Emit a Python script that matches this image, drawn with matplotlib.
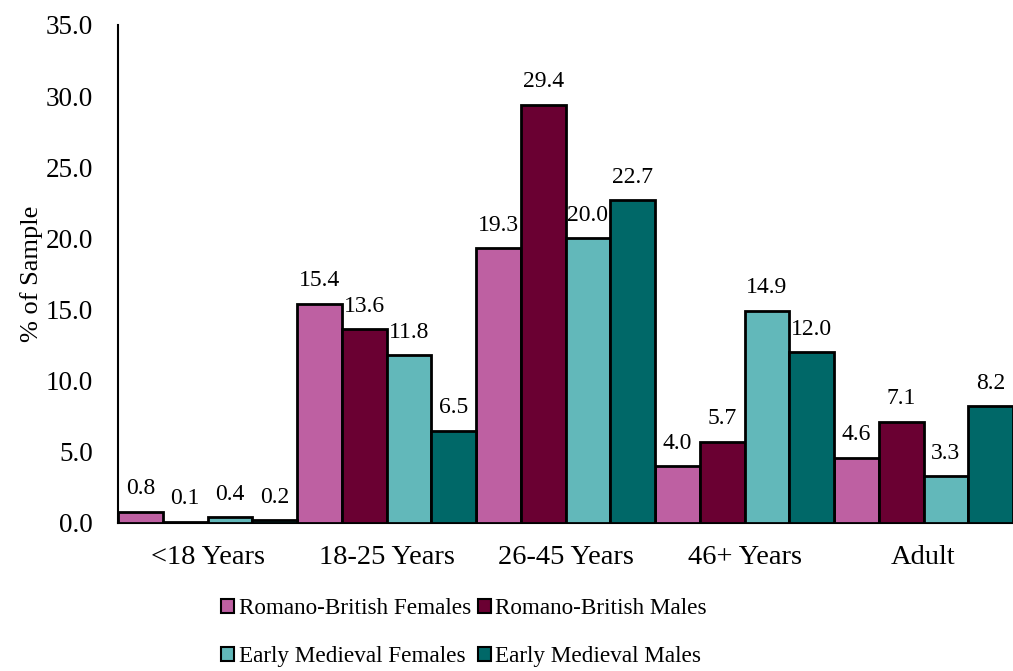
import matplotlib
matplotlib.use("Agg")
import matplotlib.pyplot as plt
from matplotlib.patches import Patch
import numpy as np

categories = ["<18 Years", "18-25 Years", "26-45 Years", "46+ Years", "Adult"]
series_names = ["Romano-British Females", "Romano-British Males",
                "Early Medieval Females", "Early Medieval Males"]
rb_females = [0.8, 15.4, 19.3, 4.0, 4.6]
rb_males = [0.1, 13.6, 29.4, 5.7, 7.1]
em_females = [0.4, 11.8, 20.0, 14.9, 3.3]
em_males = [0.2, 6.5, 22.7, 12.0, 8.2]
yticks = [0, 5, 10, 15, 20, 25, 30, 35]

colors = ["#BE60A2", "#6A0032", "#62B8BA", "#006868"]
series = [rb_females, rb_males, em_females, em_males]

plt.rcParams['font.family'] = ['Liberation Serif', 'DejaVu Serif']

fig = plt.figure(figsize=(10.13, 6.71), dpi=100)
ax = fig.add_axes([118/1013, 1-523/671, 1-118/1013, (523-25)/671])

x = np.arange(len(categories))
w = 0.25
for i, (vals, c) in enumerate(zip(series, colors)):
    pos = x - 0.375 + i * w
    ax.bar(pos, vals, width=w, color=c, edgecolor="black", linewidth=2,
           label=series_names[i], zorder=3)
    for p, v in zip(pos, vals):
        ax.annotate(f"{v:.1f}", (p, v), xytext=(0, 9), textcoords="offset points",
                    ha="center", va="bottom", fontsize=17)

ax.set_xlim(-0.5, len(categories) - 0.5)
ax.set_ylim(0, 35)
ax.set_yticks(yticks)
ax.set_yticklabels([f"{t:.1f}" for t in yticks], fontsize=19.5)
ax.set_xticks(x)
ax.set_xticklabels(categories, fontsize=20.5)
ax.tick_params(axis="x", length=0, pad=16)
ax.tick_params(axis="y", length=0, pad=18)
for s in ["top", "right"]:
    ax.spines[s].set_visible(False)
ax.spines["left"].set_linewidth(1.5)
ax.spines["bottom"].set_linewidth(1.5)
ax.set_ylabel("% of Sample", fontsize=19, labelpad=2)

handles = [Patch(facecolor=c, edgecolor="black", linewidth=1.5) for c in colors]
order = [0, 2, 1, 3]
fig.legend([handles[k] for k in order], [series_names[k] for k in order],
           loc="center", bbox_to_anchor=(464/1013, 1-632.5/671),
           ncol=2, frameon=False, fontsize=16.7, handlelength=0.55, handleheight=0.55,
           handletextpad=0.2, columnspacing=0.3, labelspacing=1.15)

fig.savefig("out.png", dpi=100)
